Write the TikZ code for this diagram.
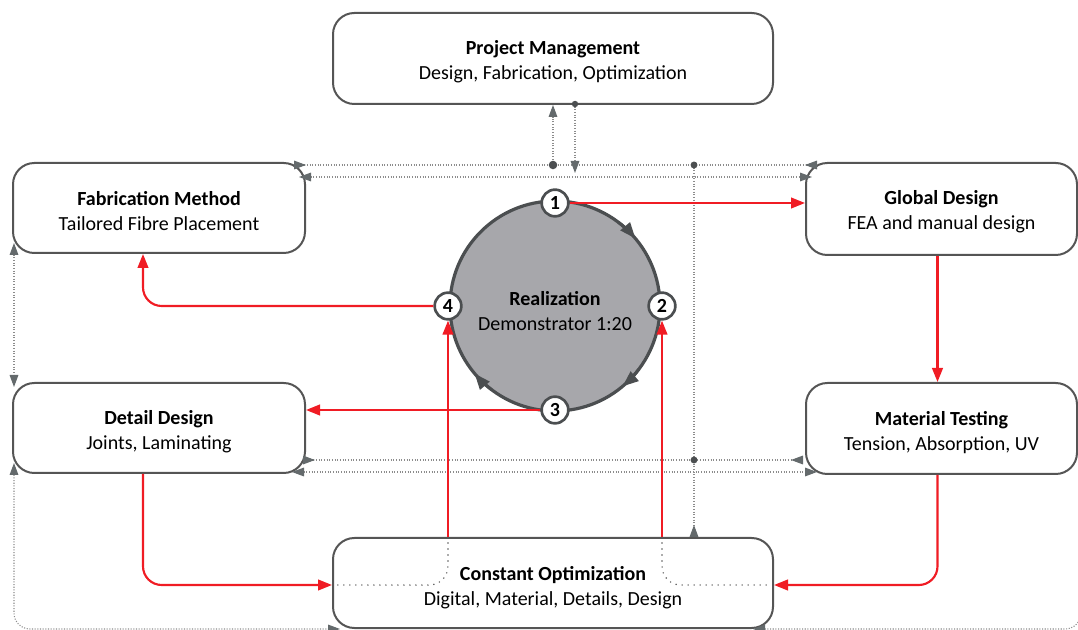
\documentclass[tikz,border=0pt]{standalone}
\usepackage{fontspec}
\setmainfont{Carlito}
\usetikzlibrary{arrows.meta,calc}
\definecolor{boxline}{RGB}{85,85,85}
\definecolor{circfill}{RGB}{167,167,171}
\definecolor{circline}{RGB}{75,78,80}
\definecolor{redc}{RGB}{240,28,36}
\definecolor{dotg}{RGB}{140,140,140}
\definecolor{tipg}{RGB}{100,106,108}
\definecolor{innerdot}{RGB}{90,90,90}
\begin{document}
\begin{tikzpicture}[x=0.75pt,y=-0.75pt,
  box/.style={draw=boxline,line width=1.5pt,rounded corners=16pt,fill=white,inner sep=0pt},
  lbl/.style={align=center,font=\fontsize{15}{19}\selectfont,inner sep=0pt},
  snum/.style={circle,draw=circline,line width=2pt,fill=white,minimum size=20pt,inner sep=0pt,
    font=\bfseries\fontsize{15}{15}\selectfont},
  redarrow/.style={draw=redc,line width=1.6pt,-{Triangle[length=10.5pt,width=8pt]}},
  gline/.style={draw=dotg,line width=0.8pt,dash pattern=on 0.8pt off 1.2pt},
  gT/.tip={Triangle[length=9pt,width=6.5pt,color=tipg]},
  gR/.tip={Triangle[length=9pt,width=6.5pt,color=tipg,reversed]},
  innerdots/.style={draw=innerdot,line width=1.2pt,dash pattern=on 0pt off 4.5pt,line cap=round},
  circarrow/.style={draw=circline,line width=2.2pt,-{Triangle[length=12pt,width=9pt]}}
]
\useasboundingbox (0,0) rectangle (1078,630);
\clip (0,0) rectangle (1078,630);

% boxes
\node[box,minimum width=330pt,minimum height=68.25pt] (pm) at (553,58.5) {};
\node[box,minimum width=219pt,minimum height=67.5pt] (fab) at (159,208) {};
\node[box,minimum width=203.25pt,minimum height=69pt] (glob) at (941.5,209) {};
\node[box,minimum width=219pt,minimum height=67.5pt] (det) at (159,428) {};
\node[box,minimum width=203.25pt,minimum height=68.25pt] (mat) at (941.5,428.5) {};
\node[box,minimum width=330pt,minimum height=67.5pt] (co) at (553,583) {};

\node[lbl] (pmt) at ($(pm.center)+(0,3)$) {\textbf{Project Management}\\Design, Fabrication, Optimization};
\node[lbl] (fabt) at ($(fab.center)+(0,3)$) {\textbf{Fabrication Method}\\Tailored Fibre Placement};
\node[lbl] (globt) at ($(glob.center)+(0,3)$) {\textbf{Global Design}\\FEA and manual design};
\node[lbl] (dett) at ($(det.center)+(0,4)$) {\textbf{Detail Design}\\Joints, Laminating};
\node[lbl] (matt) at ($(mat.center)+(0,4)$) {\textbf{Material Testing}\\Tension, Absorption, UV};
\node[lbl] (cot) at ($(co.center)+(0,5)$) {\textbf{Constant Optimization}\\Digital, Material, Details, Design};

% central circle
\node[circle,draw=circline,line width=2.4pt,fill=circfill,minimum size=157.5pt,inner sep=0pt] (real) at (555,306) {};
\node[lbl] (realt) at ($(real.center)+(0,5)$) {\textbf{Realization}\\Demonstrator 1:20};
\draw[circarrow] ([shift={(53:78.75pt)}]real.center) arc[start angle=53,end angle=40,radius=78.75pt];
\draw[circarrow] ([shift={(-37:78.75pt)}]real.center) arc[start angle=-37,end angle=-50,radius=78.75pt];
\draw[circarrow] ([shift={(-127:78.75pt)}]real.center) arc[start angle=-127,end angle=-140,radius=78.75pt];

\node[snum] (n1) at (555,203) {1};
\node[snum] (n2) at (662,306) {2};
\node[snum] (n3) at (555,410) {3};
\node[snum] (n4) at (448,306) {4};

% gray dotted communication lines
\coordinate (t1l) at (294,165);
\coordinate (t1r) at (817,165);
\coordinate (t2l) at (299,177);
\coordinate (t2r) at (812,177);
\coordinate (b1l) at (303,460);
\coordinate (b1r) at (803,460);
\coordinate (b2l) at (292,472);
\coordinate (b2r) at (817,472);
\coordinate (dA) at (553,165);
\coordinate (dB) at (575,104);
\coordinate (dC) at (694,165);
\coordinate (dD) at (694,460);
\coordinate (dBe) at (575,173);
\coordinate (lv1) at (14,243);
\coordinate (lv2) at (14,387);
\coordinate (lb1) at (14,463);
\coordinate (lb2) at (340,629);
\coordinate (rb1) at (753,629);
\coordinate (rb2) at (1081,560);

\draw[gline,gR-gR] (t1l) -- (t1r);
\draw[gline,gT-gT] (t2l) -- (t2r);
\draw[gline,gR-gR] (b1l) -- (b1r);
\draw[gline,gT-gT] (b2l) -- (b2r);
\draw[gline,-gT] (dA) -- (dA |- pm.south);
\draw[gline,-gT] (dB) -- (dBe);
\draw[gline,-gR] (dC) -- (dC |- co.north);
\draw[gline,gT-gT] (lv1) -- (lv2);
\draw[gline,gT-gT,rounded corners=12pt] (lb1) |- (lb2);
\draw[gline,gT-,rounded corners=12pt] (rb1) -| (rb2);
\fill[circline] (dA) circle[radius=3.2pt];
\fill[circline] (dB) circle[radius=2.4pt];
\fill[circline] (dC) circle[radius=2.6pt];
\fill[circline] (dD) circle[radius=2.6pt];

% dotted continuations inside Constant Optimization
\draw[innerdots,rounded corners=14pt] (n4 |- co.north) |- ($(co.west)+(5,2)$);
\draw[innerdots,rounded corners=14pt] (n2 |- co.north) |- ($(co.east)+(-5,2)$);

% red process arrows
\draw[redarrow] (n1.east) -- (n1.east -| glob.west);
\draw[redarrow] ($(glob.south)+(-4,0)$) -- ($(mat.north)+(-4,0)$);
\draw[redarrow,rounded corners=14pt] ($(mat.south)+(-4,0)$) |- ($(co.east)+(0,2)$);
\draw[redarrow,rounded corners=14pt] ($(det.south)+(-16,0)$) |- ($(co.west)+(0,2)$);
\draw[redarrow] (n3.west) -- (n3.west -| det.east);
\draw[redarrow,rounded corners=14pt] (n4.west) -| ($(fab.south)+(-16,0)$);
\draw[redarrow] (n4 |- co.north) -- (n4.south);
\draw[redarrow] (n2 |- co.north) -- (n2.south);
\end{tikzpicture}
\end{document}
